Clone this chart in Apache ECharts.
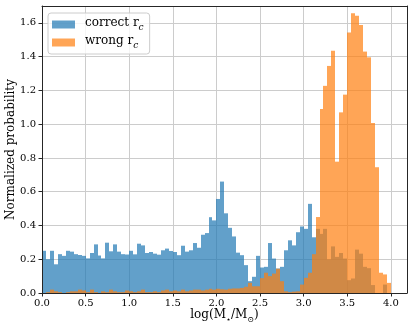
<!DOCTYPE html>
<html><head><meta charset="utf-8">
<script src="https://cdn.jsdelivr.net/npm/echarts@6/dist/echarts.min.js"></script>
<style>html,body{margin:0;padding:0;background:#fff}#chart{width:415px;height:328px}</style>
</head><body><div id="chart"></div>
<script>
// Histogram bins (log M range)
const histMin = 0.0;
const histMax = 4.0;
const nBins = 88;

// Normalized probability per bin: "correct r_c"
const correctRc = [
  0.25, 0.20, 0.25, 0.17, 0.23, 0.22, 0.25, 0.245, 0.23, 0.225, 0.22,
  0.205, 0.237, 0.288, 0.222, 0.205, 0.298, 0.247, 0.288, 0.245, 0.23, 0.228,
  0.25, 0.229, 0.292, 0.282, 0.237, 0.243, 0.233, 0.227, 0.253, 0.263, 0.249,
  0.243, 0.224, 0.28, 0.245, 0.253, 0.296, 0.268, 0.345, 0.355, 0.449, 0.43, 0.557,
  0.66,
  0.472, 0.386, 0.335, 0.239, 0.224, 0.165, 0.07, 0.096, 0.22, 0.151, 0.155, 0.296,
  0.204, 0.145, 0.155, 0.253, 0.312, 0.282, 0.36, 0.394, 0.38, 0.528, 0.33,
  0.38, 0.35, 0.38, 0.2, 0.276, 0.214, 0.237, 0.204, 0.076, 0.086, 0.257, 0.233,
  0.155, 0.147, 0.047, 0, 0, 0.05, 0
];

// Normalized probability per bin: "wrong r_c"
const wrongRc = [
  0, 0.005, 0.02, 0.01, 0.005, 0, 0.005, 0.01, 0.01, 0.02, 0.015,
  0.005, 0.02, 0.005, 0, 0.01, 0.005, 0.02, 0.01, 0.005, 0.005, 0.015,
  0.01, 0.005, 0.01, 0.02, 0.005, 0.005, 0.01, 0.005, 0.015, 0.02, 0.01,
  0.015, 0.01, 0.02, 0.01, 0.015, 0.02, 0.02, 0.015, 0.02, 0.025, 0.02, 0.025,
  0.022, 0.02, 0.025, 0.027, 0.027, 0.03,
  0.037, 0.06, 0.04, 0.04, 0.088, 0.12, 0.1, 0.115, 0.144, 0.07,
  0.01, 0.005, 0.008, 0.01,
  0.05, 0.09, 0.12, 0.23, 0.45,
  1.09, 1.227, 1.345, 1.435, 0.778, 1.07, 1.175, 1.543, 1.657, 1.642, 1.588,
  1.43, 1.396, 1.007, 0.745, 0.12, 0.11, 0.06
];

const seriesNames = ['correct r_c', 'wrong r_c'];
const legendMain = ['correct r', 'wrong r'];
const legendSub = ['c', 'c'];

const xTickValues = [0, 0.5, 1.0, 1.5, 2.0, 2.5, 3.0, 3.5, 4.0];
const yTickValues = [0, 0.2, 0.4, 0.6, 0.8, 1.0, 1.2, 1.4, 1.6];
const xMin = 0, xMax = 4.185;
const yMin = 0, yMax = 1.70;

const FONT = 'DejaVu Serif';
const binWidth = (histMax - histMin) / nBins;
function toBins(vals) {
  return vals.map((v, i) => [histMin + i * binWidth, histMin + (i + 1) * binWidth, v]);
}

function renderBar(params, api) {
  const p0 = api.coord([api.value(0), api.value(2)]);
  const p1 = api.coord([api.value(1), 0]);
  const xa = Math.round(p0[0]), xb = Math.round(p1[0]);
  return {
    type: 'rect',
    shape: { x: xa, y: p0[1], width: xb - xa, height: p1[1] - p0[1] },
    style: api.style()
  };
}

const chart = echarts.init(document.getElementById('chart'), null, { renderer: 'canvas' });
const frameColor = '#262626';
const gridColor = '#cccccc';

chart.setOption({
  animation: false,
  backgroundColor: '#ffffff',
  grid: { left: 42, right: 8, top: 6, bottom: 35, containLabel: false, outerBoundsMode: 'none' },
  xAxis: [
    {
      type: 'value', min: xMin, max: xMax, position: 'bottom', z: 3,
      axisLine: { show: true, onZero: false, lineStyle: { color: frameColor, width: 1 } },
      axisTick: { show: true, inside: false, length: 3.5, customValues: xTickValues, lineStyle: { color: frameColor, width: 1 } },
      axisLabel: { customValues: xTickValues, formatter: v => v.toFixed(1), margin: 5, color: '#000', fontFamily: FONT, fontSize: 10 },
      splitLine: { show: false },
      name: '{n|log(M}{s|⋆}{n|/M}{s|⊙}{n|)}',
      nameLocation: 'middle', nameGap: 16, nameMoveOverlap: false,
      nameTextStyle: {
        rich: {
          n: { fontFamily: FONT, fontSize: 12, color: '#000', verticalAlign: 'bottom', padding: [0, 0, 3, 0] },
          s: { fontFamily: FONT, fontSize: 8, color: '#000', verticalAlign: 'bottom' }
        }
      }
    },
    {
      type: 'value', min: xMin, max: xMax, interval: 0.5, position: 'top', z: 0,
      axisLine: { show: true, onZero: false, lineStyle: { color: frameColor, width: 1 } },
      axisTick: { show: false }, axisLabel: { show: false },
      splitLine: { show: true, showMinLine: false, showMaxLine: false, lineStyle: { color: gridColor, width: 1 } }
    }
  ],
  yAxis: [
    {
      type: 'value', min: yMin, max: yMax, position: 'left', z: 3,
      axisLine: { show: true, onZero: false, lineStyle: { color: frameColor, width: 1 } },
      axisTick: { show: true, inside: false, length: 3.5, customValues: yTickValues, lineStyle: { color: frameColor, width: 1 } },
      axisLabel: { customValues: yTickValues, formatter: v => v.toFixed(1), margin: 6, color: '#000', fontFamily: FONT, fontSize: 10 },
      splitLine: { show: false },
      name: 'Normalized probability',
      nameLocation: 'middle', nameGap: 25, nameMoveOverlap: false,
      nameTextStyle: { fontFamily: FONT, fontSize: 12, color: '#000' }
    },
    {
      type: 'value', min: yMin, max: yMax, interval: 0.2, position: 'right', z: 0,
      axisLine: { show: true, onZero: false, lineStyle: { color: frameColor, width: 1 } },
      axisTick: { show: false }, axisLabel: { show: false },
      splitLine: { show: true, showMinLine: false, showMaxLine: false, lineStyle: { color: gridColor, width: 1 } }
    }
  ],
  legend: {
    orient: 'vertical', left: 48, top: 13,
    padding: [4, 6, 4, 4], itemGap: 3, itemWidth: 23, itemHeight: 8, icon: 'rect',
    borderColor: '#cccccc', borderWidth: 1, borderRadius: 3,
    backgroundColor: 'rgba(255,255,255,0.8)',
    data: seriesNames,
    formatter: name => {
      const i = seriesNames.indexOf(name);
      return '{m|' + legendMain[i] + '}{s|' + legendSub[i] + '}';
    },
    textStyle: {
      padding: [0, 0, 0, 5],
      rich: {
        m: { fontFamily: FONT, fontSize: 12, color: '#000', verticalAlign: 'bottom', padding: [0, 0, 3, 0] },
        s: { fontFamily: FONT, fontSize: 9, fontStyle: 'italic', color: '#000', verticalAlign: 'bottom' }
      }
    }
  },
  series: [
    {
      name: seriesNames[0], type: 'custom', renderItem: renderBar, clip: true,
      xAxisIndex: 0, yAxisIndex: 0,
      encode: { x: [0, 1], y: 2 },
      itemStyle: { color: 'rgba(31,119,180,0.7)' },
      data: toBins(correctRc)
    },
    {
      name: seriesNames[1], type: 'custom', renderItem: renderBar, clip: true,
      xAxisIndex: 0, yAxisIndex: 0,
      encode: { x: [0, 1], y: 2 },
      itemStyle: { color: 'rgba(255,127,14,0.7)' },
      data: toBins(wrongRc)
    }
  ]
});
</script>
</body></html>
